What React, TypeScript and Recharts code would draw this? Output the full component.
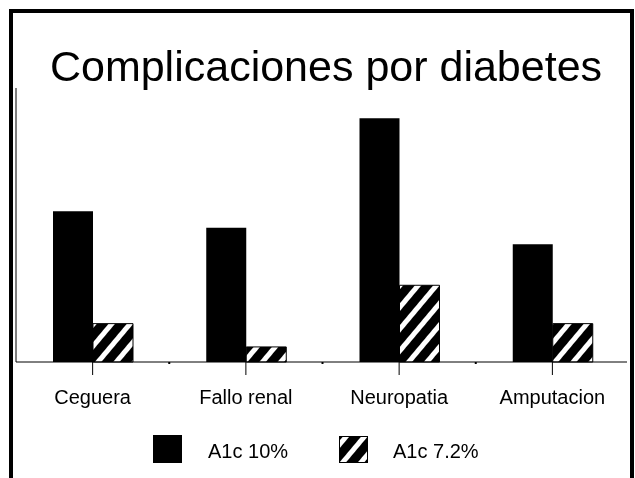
import React from 'react';
import { BarChart, Bar, XAxis, YAxis } from 'recharts';

const categories = ['Ceguera', 'Fallo renal', 'Neuropatia', 'Amputacion'];
const seriesNames = ['A1c 10%', 'A1c 7.2%'];
const a1c10 = [55, 49, 89, 43];
const a1c72 = [14, 5.5, 28, 14];

const data = categories.map((name, i) => ({ name, a1c10: a1c10[i], a1c72: a1c72[i] }));

const FONT = '"Liberation Sans", Arial, sans-serif';
const W = 627;
const H = 462;
const Y_WIDTH = 1;
const margin = { top: 80, right: 6, left: 7, bottom: 48 };
const BAND = (W - margin.left - Y_WIDTH - margin.right) / categories.length;

const CategoryTick = (props: any) => {
  const { x, y, payload } = props;
  const half = payload && payload.offset ? payload.offset : BAND / 2;
  return (
    <g>
      <line x1={x} x2={x} y1={y} y2={y + 13} stroke="#000" />
      <line x1={x + half} x2={x + half} y1={y} y2={y + 2} stroke="#000" strokeWidth={2} />
      <text x={x} y={y + 42} textAnchor="middle" fontSize={20} fontFamily={FONT} fill="#000">
        {payload.value}
      </text>
    </g>
  );
};

const HatchDef = ({ id }: { id: string }) => (
  <pattern id={id} width={14} height={14} patternUnits="userSpaceOnUse" patternTransform="rotate(40)">
    <rect width={14} height={14} fill="#000" />
    <rect x={0} width={5} height={14} fill="#fff" />
  </pattern>
);

export default function App() {
  return (
    <div style={{ position: 'relative', width: W, height: H }}>
      <div
        style={{
          position: 'fixed',
          left: 9,
          top: 9,
          width: 625,
          height: 520,
          boxSizing: 'border-box',
          border: '4px solid #000',
          borderBottom: 'none',
          pointerEvents: 'none',
        }}
      />
      <BarChart width={W} height={H} data={data} margin={margin} barGap={0} barSize={40}>
        <defs>
          <HatchDef id="hatchBar" />
        </defs>
        <XAxis
          dataKey="name"
          height={60}
          tickLine={false}
          tickSize={0}
          tickMargin={0}
          axisLine={{ stroke: '#000' }}
          tick={<CategoryTick />}
          interval={0}
        />
        <YAxis
          domain={[0, 100]}
          width={Y_WIDTH}
          tick={false}
          tickLine={false}
          axisLine={{ stroke: '#000' }}
        />
        <Bar dataKey="a1c10" name={seriesNames[0]} fill="#000" isAnimationActive={false} />
        <Bar
          dataKey="a1c72"
          name={seriesNames[1]}
          fill="url(#hatchBar)"
          stroke="#000"
          strokeWidth={1}
          isAnimationActive={false}
        />
      </BarChart>
      <svg
        width={W}
        height={H}
        style={{ position: 'absolute', left: 0, top: 0, pointerEvents: 'none' }}
      >
        <defs>
          <HatchDef id="hatchLegend" />
        </defs>
        <text x={318} y={73} textAnchor="middle" fontSize={43} fontFamily={FONT} fill="#000">
          Complicaciones por diabetes
        </text>
        <rect x={145} y={427} width={29} height={28} fill="#000" />
        <text x={200} y={450} fontSize={20} fontFamily={FONT} fill="#000">
          {seriesNames[0]}
        </text>
        <rect x={331.5} y={428.5} width={28} height={26} fill="url(#hatchLegend)" stroke="#000" />
        <text x={385} y={450} fontSize={20} fontFamily={FONT} fill="#000">
          {seriesNames[1]}
        </text>
      </svg>
    </div>
  );
}
